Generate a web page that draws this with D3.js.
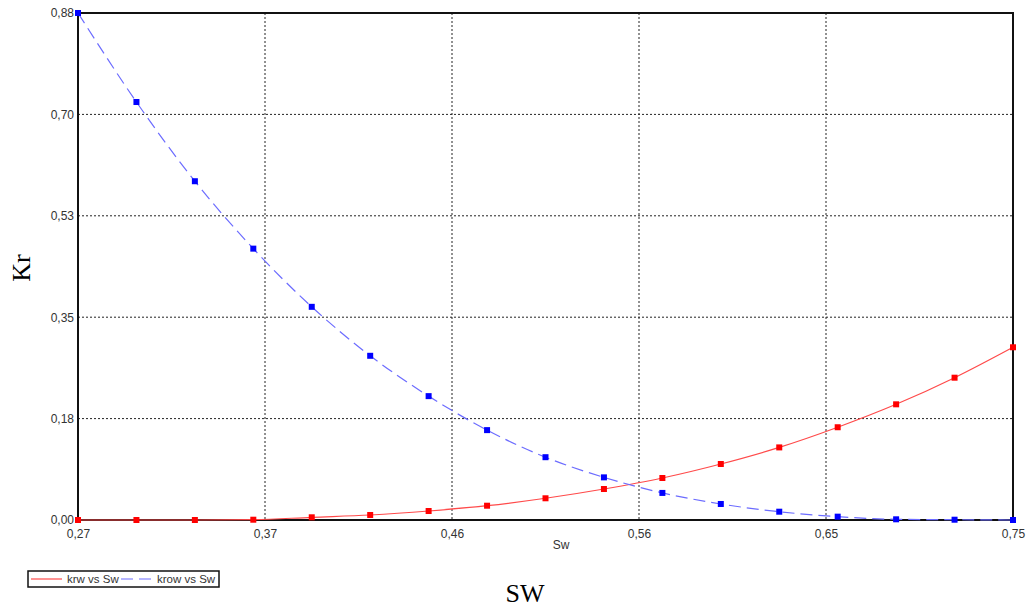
<!DOCTYPE html>
<html>
<head>
<meta charset="utf-8">
<script src="https://cdn.jsdelivr.net/npm/d3@7"></script>
<style>
  body { margin: 0; background: #fff; }
  svg { display: block; }
</style>
</head>
<body>
<svg id="drawing_region"></svg>
<script>
// Sw values for both series
const sw = [0.27, 0.30, 0.33, 0.36, 0.39, 0.42, 0.45, 0.48, 0.51, 0.54, 0.57, 0.60, 0.63, 0.66, 0.69, 0.72, 0.75];
const krw = [0, 0, 0, 0.0005, 0.0047, 0.0087, 0.0156, 0.0248, 0.0377, 0.0538, 0.0729, 0.0972, 0.126, 0.161, 0.2008, 0.247, 0.2998];
const krow = [0.88, 0.7255, 0.588, 0.471, 0.370, 0.285, 0.215, 0.156, 0.109, 0.074, 0.047, 0.0278, 0.0144, 0.0058, 0.0012, 0.0005, 0];
const xTicks = [0.27, 0.366, 0.462, 0.558, 0.654, 0.75];
const yTicks = [0, 0.176, 0.352, 0.528, 0.704, 0.88];
const seriesNames = ["krw vs Sw", "krow vs Sw"];

const config = {
    width: 1027,
    height: 610,
    margin: {top: 13, right: 14, bottom: 90, left: 78}
};

const svg = d3.select('#drawing_region')
    .attr('width', config.width)
    .attr('height', config.height);

const inner_width = config.width - config.margin.left - config.margin.right;
const inner_height = config.height - config.margin.top - config.margin.bottom;

const chart = svg.append('g')
    .attr('transform', `translate(${config.margin.left}, ${config.margin.top})`);

const xscale = d3.scaleLinear().domain([0.27, 0.75]).range([0, inner_width]);
const yscale = d3.scaleLinear().domain([0, 0.88]).range([inner_height, 0]);

const fmt = v => d3.format('.2f')(v).replace('.', ',');

// grid
chart.append('g').selectAll('line')
    .data(xTicks.slice(1, -1))
    .join('line')
    .attr('x1', d => xscale(d)).attr('x2', d => xscale(d))
    .attr('y1', 0).attr('y2', inner_height)
    .attr('stroke', '#222').attr('stroke-width', 1)
    .attr('stroke-dasharray', '2,2');

chart.append('g').selectAll('line')
    .data(yTicks.slice(1, -1))
    .join('line')
    .attr('x1', 0).attr('x2', inner_width)
    .attr('y1', d => yscale(d)).attr('y2', d => yscale(d))
    .attr('stroke', '#222').attr('stroke-width', 1)
    .attr('stroke-dasharray', '2,2');

// axes
const xaxis = d3.axisBottom(xscale).tickValues(xTicks).tickFormat(fmt).tickSize(0).tickPadding(9);
const yaxis = d3.axisLeft(yscale).tickValues(yTicks).tickFormat(fmt).tickSize(0).tickPadding(4);

const xg = chart.append('g')
    .attr('transform', `translate(0, ${inner_height})`)
    .call(xaxis);
const yg = chart.append('g').call(yaxis);

[xg, yg].forEach(g => {
    g.select('.domain').remove();
    g.selectAll('text')
        .attr('font-family', 'Liberation Sans, Arial, sans-serif')
        .attr('font-size', 12)
        .attr('fill', '#333');
});

// border
chart.append('rect')
    .attr('x', 0).attr('y', 0)
    .attr('width', inner_width).attr('height', inner_height)
    .attr('fill', 'none')
    .attr('stroke', '#111').attr('stroke-width', 2);

// series
const line = d3.line()
    .x((d, i) => xscale(sw[i]))
    .y(d => yscale(d))
    .curve(d3.curveMonotoneX);

chart.append('path')
    .attr('d', line(krw))
    .attr('fill', 'none')
    .attr('stroke', '#ff4a4a').attr('stroke-width', 1.2);

chart.append('path')
    .attr('d', line(krow))
    .attr('fill', 'none')
    .attr('stroke', '#6c6cff').attr('stroke-width', 1.2)
    .attr('stroke-dasharray', '12,6');

const ms = 6;
chart.append('g').selectAll('rect')
    .data(krw)
    .join('rect')
    .attr('x', (d, i) => xscale(sw[i]) - ms / 2)
    .attr('y', d => yscale(d) - ms / 2)
    .attr('width', ms).attr('height', ms)
    .attr('fill', '#ff0000');

chart.append('g').selectAll('rect')
    .data(krow)
    .join('rect')
    .attr('x', (d, i) => xscale(sw[i]) - ms / 2)
    .attr('y', d => yscale(d) - ms / 2)
    .attr('width', ms).attr('height', ms)
    .attr('fill', '#0000ff');

// axis labels
chart.append('text')
    .attr('x', xscale(0.558) - 78)
    .attr('y', inner_height + 29)
    .attr('text-anchor', 'middle')
    .attr('font-family', 'Liberation Sans, Arial, sans-serif')
    .attr('font-size', 12)
    .attr('fill', '#333')
    .text('Sw');

svg.append('text')
    .attr('transform', 'translate(30, 268) rotate(-90)')
    .attr('text-anchor', 'middle')
    .attr('font-family', 'Liberation Serif, Times New Roman, serif')
    .attr('font-size', 26)
    .text('Kr');

svg.append('text')
    .attr('x', 525)
    .attr('y', 602)
    .attr('text-anchor', 'middle')
    .attr('font-family', 'Liberation Serif, Times New Roman, serif')
    .attr('font-size', 26)
    .text('SW');

// legend
const legend = svg.append('g').attr('transform', 'translate(28, 571)');
legend.append('rect')
    .attr('x', 0).attr('y', 0)
    .attr('width', 191).attr('height', 16)
    .attr('fill', '#fff')
    .attr('stroke', '#111').attr('stroke-width', 1.5);

legend.append('line')
    .attr('x1', 3).attr('x2', 34).attr('y1', 8).attr('y2', 8)
    .attr('stroke', '#ff4a4a').attr('stroke-width', 1.2);
legend.append('text')
    .attr('x', 39).attr('y', 12)
    .attr('font-family', 'Liberation Sans, Arial, sans-serif')
    .attr('font-size', 11.5)
    .attr('fill', '#333')
    .text(seriesNames[0]);

legend.append('line')
    .attr('x1', 93).attr('x2', 125).attr('y1', 8).attr('y2', 8)
    .attr('stroke', '#6c6cff').attr('stroke-width', 1.2)
    .attr('stroke-dasharray', '12,6');
legend.append('text')
    .attr('x', 129).attr('y', 12)
    .attr('font-family', 'Liberation Sans, Arial, sans-serif')
    .attr('font-size', 11.5)
    .attr('fill', '#333')
    .text(seriesNames[1]);
</script>
</body>
</html>
